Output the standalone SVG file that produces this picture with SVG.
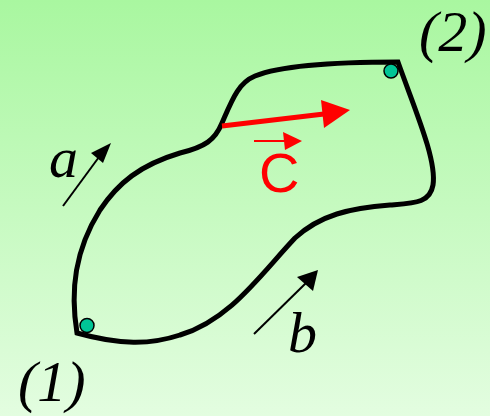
<svg xmlns="http://www.w3.org/2000/svg" width="490" height="416" viewBox="0 0 490 416">
<defs>
<linearGradient id="bg" x1="0" y1="0" x2="0" y2="1">
<stop offset="0" stop-color="#a9f7a0"/>
<stop offset="1" stop-color="#e3fde0"/>
</linearGradient>
<style>
.curve{fill:none;stroke:#000;stroke-width:5;stroke-linejoin:miter}
.dot{fill:#00c596;stroke:#000;stroke-width:1.5}
.lbl{font-family:"Liberation Serif","Times New Roman",serif;font-style:italic;font-size:58px;fill:#000}
.thin{stroke:#000;stroke-width:2;fill:none}
.head{fill:#000}
.red{fill:#ff0000}
</style>
</defs>
<rect width="490" height="416" fill="url(#bg)"/>
<g id="contour">
<path class="curve" d="M 77 333 C 70 290, 75 250, 100 210 C 118 183, 140 165, 180 153 C 205 147, 215 140, 222 123 C 232 100, 238 83, 255 76 C 280 66, 330 62, 398 62 C 415 110, 437 160, 433 185 C 430 203, 415 203, 390 205 C 350 208, 320 215, 295 238 C 260 275, 230 320, 180 335 C 150 345, 120 345, 77 333 Z"/>
</g>
<g id="point1">
<circle class="dot" cx="87" cy="325.5" r="7"/>
<text class="lbl" x="18" y="401">(1)</text>
</g>
<g id="point2">
<circle class="dot" cx="391" cy="71" r="7"/>
<text class="lbl" x="419" y="51">(2)</text>
</g>
<g id="vectorC">
<line x1="222" y1="126" x2="324" y2="114" stroke="#ff0000" stroke-width="5"/>
<polygon class="red" points="350,110 321,100 324,128"/>
<line x1="254" y1="141" x2="288" y2="141" stroke="#ff0000" stroke-width="2"/>
<polygon class="red" points="302,141 283,132 285,150"/>
<text x="259" y="192" font-family="'Liberation Sans',Arial,sans-serif" font-size="56" fill="#ff0000">C</text>
</g>
<g id="connectors">
<g id="arrowA">
<line class="thin" x1="63" y1="206" x2="99" y2="157"/>
<polygon class="head" points="111,143 91,153 103,163"/>
<text class="lbl" x="49" y="177">a</text>
</g>
<g id="arrowB">
<line class="thin" x1="254" y1="334" x2="306" y2="283"/>
<polygon class="head" points="318,270 297,277 313,291"/>
<text class="lbl" x="288" y="352">b</text>
</g>
</g>
</svg>
